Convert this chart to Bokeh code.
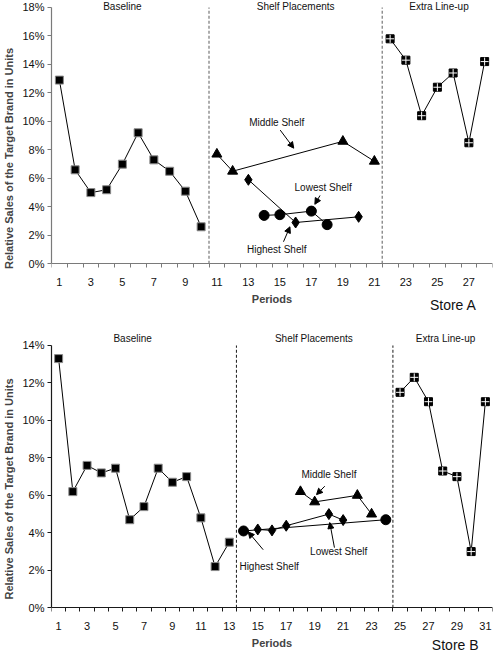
from bokeh.plotting import figure
from bokeh.models import (Range1d, FixedTicker, PrintfTickFormatter, Label, Arrow,
                          NormalHead, LinearAxis)
from bokeh.layouts import column
from bokeh.embed import file_html
from bokeh.resources import INLINE

FONT = "Liberation Sans"

# ---------------- Store A data ----------------
a_base_x = [1, 2, 3, 4, 5, 6, 7, 8, 9, 10]
a_base_y = [12.9, 6.6, 5.0, 5.2, 7.0, 9.2, 7.3, 6.5, 5.1, 2.6]
a_mid_x = [11, 12, 19, 21]
a_mid_y = [7.7, 6.5, 8.6, 7.2]
a_high_x = [13, 16, 20]
a_high_y = [5.9, 2.9, 3.3]
a_low_x = [14, 15, 17, 18]
a_low_y = [3.4, 3.45, 3.7, 2.75]
a_extra_x = [22, 23, 24, 25, 26, 27, 28]
a_extra_y = [15.8, 14.3, 10.4, 12.4, 13.4, 8.5, 14.2]
a_phase_bounds = [10.5, 21.5]
a_y_ticks = [0, 2, 4, 6, 8, 10, 12, 14, 16, 18]
a_x_labels = [1, 3, 5, 7, 9, 11, 13, 15, 17, 19, 21, 23, 25, 27]

# ---------------- Store B data ----------------
b_base_x = [1, 2, 3, 4, 5, 6, 7, 8, 9, 10, 11, 12, 13]
b_base_y = [13.3, 6.2, 7.6, 7.2, 7.45, 4.7, 5.4, 7.45, 6.7, 7.0, 4.8, 2.2, 3.5]
b_mid_x = [18, 19, 22, 23]
b_mid_y = [6.2, 5.65, 6.0, 5.0]
b_circ_x = [14, 24]
b_circ_y = [4.1, 4.7]
b_diam_x = [15, 16, 17, 20, 21]
b_diam_y = [4.18, 4.13, 4.38, 5.0, 4.68]
b_extra_x = [25, 26, 27, 28, 29, 30, 31]
b_extra_y = [11.5, 12.3, 11.0, 7.3, 7.0, 3.0, 11.0]
b_phase_bounds = [13.5, 24.5]
b_y_ticks = [0, 2, 4, 6, 8, 10, 12, 14]
b_x_labels = [1, 3, 5, 7, 9, 11, 13, 15, 17, 19, 21, 23, 25, 27, 29, 31]

phase_names = ["Baseline", "Shelf Placements", "Extra Line-up"]


def make_chart(height, n_periods, y_max, y_bottom, y_top, y_ticks, x_labels,
               border_top, axis_color):
    p = figure(width=493, height=height, output_backend="svg", toolbar_location=None,
               x_range=Range1d(0.5, n_periods + 0.5), y_range=Range1d(y_bottom, y_top),
               x_axis_location=None,
               min_border_left=48, min_border_right=1, min_border_top=border_top,
               min_border_bottom=0)
    p.outline_line_color = None
    p.grid.visible = False
    p.background_fill_color = "white"

    # x axis drawn at the 0% level
    xa = LinearAxis(fixed_location=0)
    xa.ticker = FixedTicker(ticks=x_labels,
                            minor_ticks=[i + 0.5 for i in range(0, n_periods + 1)])
    xa.major_tick_out = 0
    xa.major_tick_in = 0
    xa.minor_tick_out = 4
    xa.minor_tick_in = 0
    xa.major_label_standoff = 10
    xa.axis_label = "Periods"
    xa.axis_label_standoff = 4
    xa.axis_label_text_font = FONT
    xa.axis_label_text_font_style = "bold"
    xa.axis_label_text_font_size = "11px"
    xa.major_label_text_font = FONT
    xa.major_label_text_font_size = "11px"
    xa.major_label_text_color = "#111111"
    p.add_layout(xa, "below")

    ya = p.yaxis[0]
    ya.ticker = FixedTicker(ticks=y_ticks, minor_ticks=[])
    ya.formatter = PrintfTickFormatter(format="%d%%")
    ya.bounds = (0, y_max)
    ya.major_tick_out = 4
    ya.major_tick_in = 0
    ya.minor_tick_out = 0
    ya.major_label_standoff = 3
    ya.axis_label = "Relative Sales of the Target Brand in Units"
    ya.axis_label_standoff = 4
    ya.axis_label_text_font = FONT
    ya.axis_label_text_font_style = "bold"
    ya.axis_label_text_font_size = "11px"
    ya.major_label_text_font = FONT
    ya.major_label_text_font_size = "11px"
    ya.major_label_text_color = "#111111"

    for ax in (xa, ya):
        ax.axis_line_color = axis_color
        ax.major_tick_line_color = axis_color
        ax.minor_tick_line_color = axis_color
        ax.axis_line_width = 1.2
    return p


def add_text(p, x, y, text, size="10px", align="center"):
    p.add_layout(Label(x=x, y=y, text=text, text_font=FONT, text_font_size=size,
                       text_align=align, text_baseline="middle", text_color="#111111"))


def add_arrow(p, xs, ys, xe, ye):
    p.add_layout(Arrow(end=NormalHead(size=6, fill_color="black", line_color="black",
                                      line_width=1),
                       x_start=xs, y_start=ys, x_end=xe, y_end=ye,
                       line_color="black", line_width=1))


def draw_series(p, base_x, base_y, extra_x, extra_y):
    p.line(base_x, base_y, line_color="black", line_width=1)
    p.scatter(base_x, base_y, marker="square", size=8, fill_color="black",
              line_color="#8a8a8a", line_width=1)
    p.line(extra_x, extra_y, line_color="black", line_width=1)
    p.scatter(extra_x, extra_y, marker="square", size=8, fill_color="black",
              line_color="black", line_width=1)
    p.scatter(extra_x, extra_y, marker="cross", size=8, line_color="white",
              line_width=1)


# ================= Store A =================
pa = make_chart(height=316, n_periods=28, y_max=18, y_bottom=-3.70, y_top=18.49,
                y_ticks=a_y_ticks, x_labels=a_x_labels, border_top=0,
                axis_color="#7a7a7a")
pa.segment(x0=a_phase_bounds, y0=[0, 0], x1=a_phase_bounds, y1=[18, 18],
           line_color="#8a8a8a", line_width=1.4, line_dash="3 2")
draw_series(pa, a_base_x, a_base_y, a_extra_x, a_extra_y)
pa.line(a_mid_x, a_mid_y, line_color="black", line_width=1)
pa.scatter(a_mid_x, a_mid_y, marker="triangle", size=10, fill_color="black", line_color="black")
pa.line(a_high_x, a_high_y, line_color="black", line_width=1)
pa.scatter(a_high_x, a_high_y, marker="diamond", size=11, fill_color="black", line_color="black")
pa.line(a_low_x, a_low_y, line_color="black", line_width=1)
pa.scatter(a_low_x, a_low_y, marker="circle", size=10, fill_color="black", line_color="black")

for x, name in zip([5.0, 16.0, 25.1], phase_names):
    add_text(pa, x, 18.1, name)
add_text(pa, 14.8, 9.9, "Middle Shelf")
add_arrow(pa, 15.02, 9.39, 15.88, 8.12)
add_text(pa, 17.75, 5.35, "Lowest Shelf")
add_arrow(pa, 17.55, 4.8, 17.22, 4.18)
add_text(pa, 14.8, 1.0, "Highest Shelf")
add_arrow(pa, 15.23, 1.55, 15.64, 2.6)
add_text(pa, 27.49, -2.86, "Store A", size="14px", align="right")

# ================= Store B =================
pb = make_chart(height=337, n_periods=31, y_max=14, y_bottom=-2.44, y_top=15.12,
                y_ticks=b_y_ticks, x_labels=b_x_labels, border_top=8,
                axis_color="#1a1a1a")
pb.segment(x0=b_phase_bounds, y0=[0, 0], x1=b_phase_bounds, y1=[14, 14],
           line_color="#1a1a1a", line_width=1, line_dash="3 2")
draw_series(pb, b_base_x, b_base_y, b_extra_x, b_extra_y)
pb.line(b_mid_x, b_mid_y, line_color="black", line_width=1)
pb.scatter(b_mid_x, b_mid_y, marker="triangle", size=10, fill_color="black", line_color="black")
pb.line(b_circ_x, b_circ_y, line_color="black", line_width=1)
pb.line(b_diam_x, b_diam_y, line_color="black", line_width=1)
pb.scatter(b_diam_x, b_diam_y, marker="diamond", size=11, fill_color="black", line_color="black")
pb.scatter(b_circ_x, b_circ_y, marker="circle", size=10, fill_color="black", line_color="black")

for x, name in zip([6.2, 18.94, 28.2], phase_names):
    add_text(pb, x, 14.36, name)
add_text(pb, 20.0, 7.11, "Middle Shelf")
add_arrow(pb, 19.71, 6.49, 19.13, 6.04)
add_text(pb, 20.69, 3.01, "Lowest Shelf")
add_arrow(pb, 20.39, 3.21, 20.06, 4.55)
add_text(pb, 15.8, 2.21, "Highest Shelf")
add_arrow(pb, 15.38, 3.1, 14.33, 4.05)
add_text(pb, 30.52, -2.01, "Store B", size="14px", align="right")

layout = column(pa, pb, spacing=0)
open("out.html", "w").write(file_html(layout, INLINE))
